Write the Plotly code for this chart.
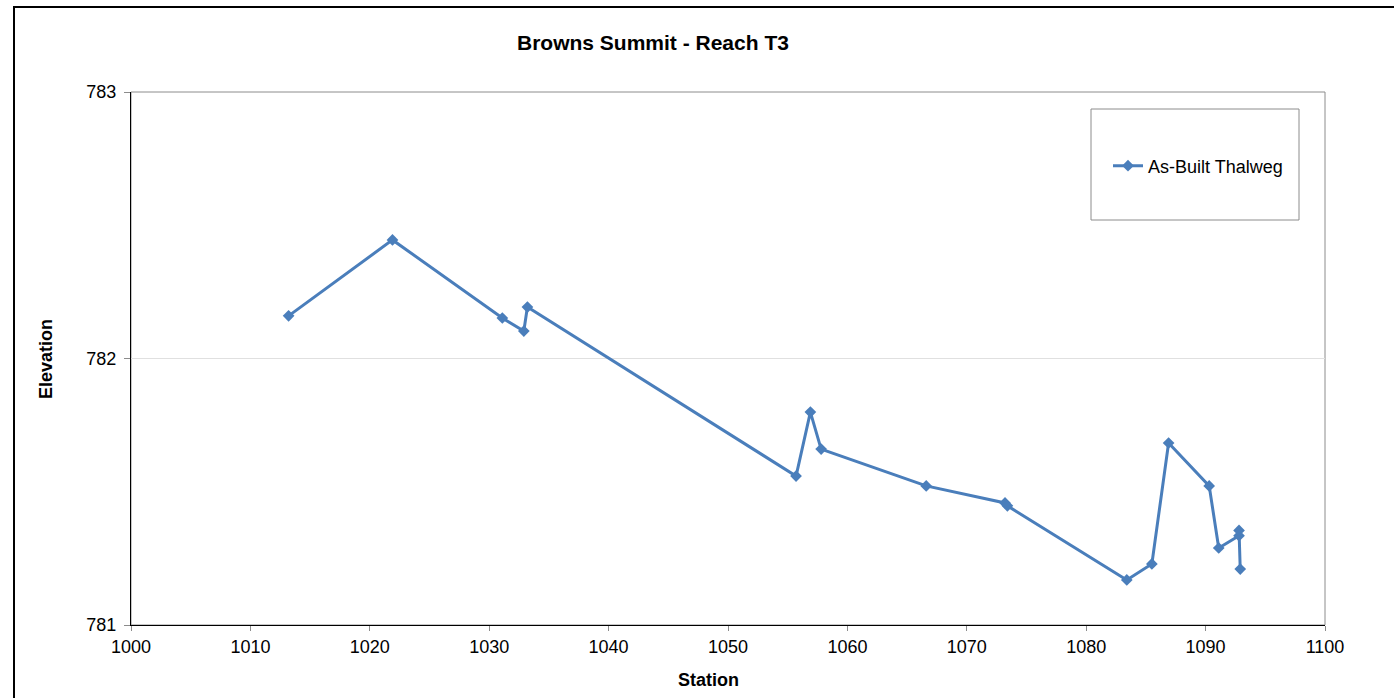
import plotly.graph_objects as go

# As-built thalweg survey, Reach T3
station = [1013.2, 1021.9, 1031.1, 1032.9, 1033.2, 1055.7, 1056.9, 1057.8,
           1066.6, 1073.2, 1073.4, 1083.4, 1085.5, 1086.9, 1090.3, 1091.1,
           1092.8, 1092.8, 1092.9]
elevation = [782.160, 782.445, 782.152, 782.103, 782.193, 781.559, 781.799, 781.660,
             781.522, 781.458, 781.447, 781.169, 781.229, 781.683, 781.522, 781.289,
             781.335, 781.355, 781.210]

x_ticks = list(range(1000, 1101, 10))
y_ticks = [781, 782, 783]

BLUE = "#4a7ebb"
FONT = "Liberation Sans, Arial, sans-serif"

fig = go.Figure()
fig.add_trace(go.Scatter(
    x=station, y=elevation, mode="lines+markers", name="As-Built Thalweg",
    line=dict(color=BLUE, width=3),
    marker=dict(symbol="diamond", size=9, color=BLUE),
))

W, H = 1394, 698
L, R, T, B = 131, 69, 92, 73
pw, ph = W - L - R, H - T - B


def px(xp):
    return (xp - L) / pw


def py(yp):
    return (H - B - yp) / ph


shapes = [
    # outer chart frame
    dict(type="rect", xref="paper", yref="paper",
         x0=px(14), x1=px(1400), y0=py(710), y1=py(7),
         line=dict(color="#000000", width=2), fillcolor="rgba(0,0,0,0)", layer="below"),
    # plot area frame
    dict(type="rect", xref="paper", yref="paper", x0=0, x1=1, y0=0, y1=1,
         line=dict(color="#8c8c8c", width=1), fillcolor="rgba(0,0,0,0)", layer="below"),
    # legend box
    dict(type="rect", xref="paper", yref="paper",
         x0=px(1091), x1=px(1299), y0=py(220), y1=py(109),
         line=dict(color="#8c8c8c", width=1), fillcolor="white", layer="below"),
]

annotations = [
    dict(text="<b>Browns Summit - Reach T3</b>", xref="paper", yref="paper",
         x=px(653), y=py(42), xanchor="center", yanchor="middle", showarrow=False,
         font=dict(size=21, color="black", family=FONT)),
    dict(text="<b>Station</b>", xref="paper", yref="paper",
         x=px(708), y=py(680), xanchor="center", yanchor="middle", showarrow=False,
         font=dict(size=18, color="black", family=FONT)),
    dict(text="<b>Elevation</b>", xref="paper", yref="paper", textangle=-90,
         x=px(46), y=py(359), xanchor="center", yanchor="middle", showarrow=False,
         font=dict(size=18, color="black", family=FONT)),
]

fig.update_layout(
    width=W, height=H,
    margin=dict(l=L, r=R, t=T, b=B),
    paper_bgcolor="white", plot_bgcolor="white",
    font=dict(family=FONT, size=18, color="black"),
    shapes=shapes, annotations=annotations,
    showlegend=True,
    legend=dict(x=px(1108), y=py(166), xanchor="left", yanchor="middle",
                bgcolor="rgba(0,0,0,0)", font=dict(size=18, family=FONT)),
    xaxis=dict(range=[1000, 1100], tickvals=x_ticks, showgrid=False, zeroline=False,
               showline=True, linecolor="black", linewidth=1,
               ticks="outside", ticklen=5, tickcolor="#8c8c8c",
               tickfont=dict(size=18)),
    yaxis=dict(range=[781, 783], tickvals=y_ticks, showgrid=True, gridcolor="#e0e0e0",
               zeroline=False, showline=True, linecolor="black", linewidth=1,
               ticks="outside", ticklen=6, tickcolor="#8c8c8c",
               tickfont=dict(size=18), ticklabelstandoff=4),
)

fig.write_html("out.html")
